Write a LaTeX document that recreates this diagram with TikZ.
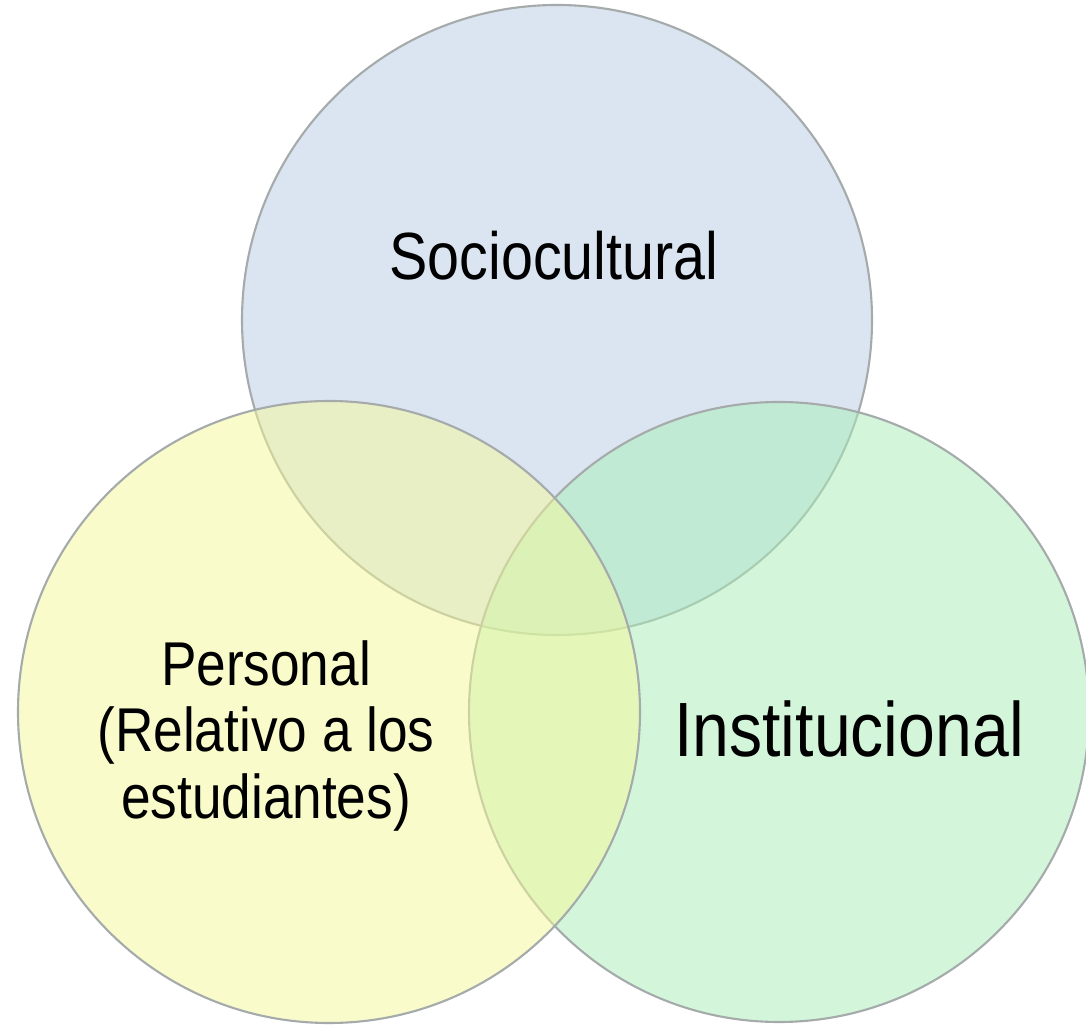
\documentclass[tikz,border=0pt]{standalone}
\usepackage{fontspec}
\setmainfont{Liberation Sans}[FakeStretch=0.86]
\usepackage{tikz}
\usetikzlibrary{positioning}
\usepackage{xcolor}
\definecolor{socblue}{RGB}{185,205,229}
\definecolor{peryellow}{RGB}{245,249,153}
\definecolor{insgreen}{RGB}{169,239,185}
\definecolor{vennline}{RGB}{165,170,170}

\begin{document}
\begin{tikzpicture}[venn/.style={circle, draw=vennline, line width=0.6pt, fill opacity=0.5, draw opacity=1, inner sep=0pt}, venntext/.style={anchor=base, align=center, text=black}]
        \useasboundingbox[fill=white] (0,0) rectangle (10.86,10.28);
        \node[venn, fill=socblue, minimum size=6.30cm] (soc) at (5.57,7.08) {};
        \node[venn, fill=insgreen, minimum size=6.20cm] (ins) at (7.79,3.16) {};
        \node[venn, fill=peryellow, minimum size=6.22cm] (per) at (3.29,3.16) {};
        \node[venntext, font=\fontsize{19}{23}\selectfont] (soctext) at (5.54,7.48) {Sociocultural};
        \node[venntext, font=\fontsize{17.6}{18.8}\selectfont] (pertext) at (2.66,2.10) {Personal\\(Relativo a los\\estudiantes)};
        \node[venntext, font=\fontsize{21.9}{26}\selectfont] (instext) at (8.49,2.71) {Institucional};
    \end{tikzpicture}
\end{document}
